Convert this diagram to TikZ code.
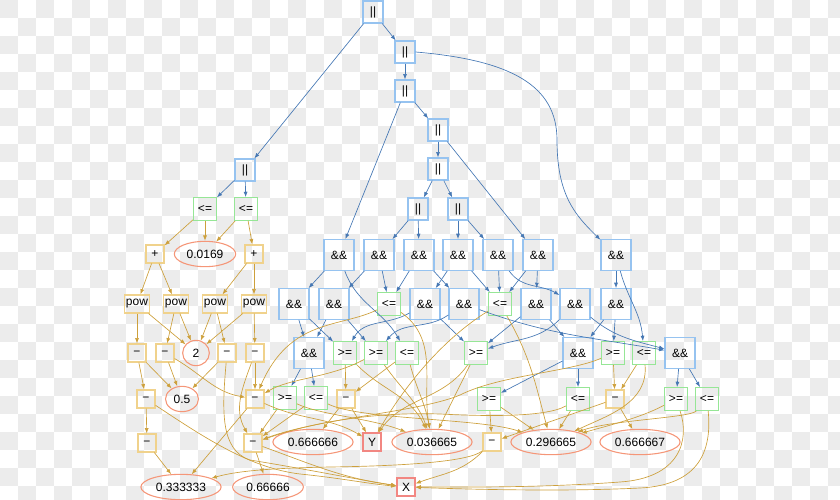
\documentclass[tikz,border=0pt]{standalone}
\usepackage{fontspec}
\setmainfont{Liberation Sans}
\usetikzlibrary{arrows.meta,shapes.geometric}

\definecolor{logicline}{RGB}{70,120,180}
\definecolor{arithline}{RGB}{205,160,60}
\definecolor{logicfrm}{RGB}{150,195,240}
\definecolor{cmpfrm}{RGB}{150,230,150}
\definecolor{opfrm}{RGB}{240,210,140}
\definecolor{constfrm}{RGB}{245,150,120}
\definecolor{varfrm}{RGB}{242,135,130}
\definecolor{chkgrey}{RGB}{236,236,236}

\tikzset{
  orbox/.style={draw=logicfrm, line width=0.9pt, minimum width=15pt, minimum height=16.5pt, inner sep=0pt},
  andbox/.style={draw=logicfrm, line width=0.9pt, minimum width=22.5pt, minimum height=23pt, inner sep=0pt},
  cmpbox/.style={draw=cmpfrm, line width=0.9pt, minimum size=17pt, inner sep=0pt},
  opbox/.style={draw=opfrm, line width=0.9pt, minimum size=13.5pt, inner xsep=1pt, inner ysep=0pt},
  constell/.style={ellipse, draw=constfrm, line width=0.8pt, minimum width=20pt, minimum height=19pt, inner xsep=2.5pt, inner ysep=0pt},
  varbox/.style={draw=varfrm, line width=0.8pt, minimum size=13.5pt, inner sep=0pt},
  logicedge/.style={draw=logicline, line width=0.5pt, -{Latex[length=4pt,width=3pt]}},
  arithedge/.style={draw=arithline, line width=0.5pt, -{Latex[length=4pt,width=3pt]}}
}

\begin{document}
\begin{tikzpicture}[x=0.75pt, y=-0.75pt, every node/.style={font=\fontsize{9}{11}\selectfont}]
  % Background
  \useasboundingbox (0,0) rectangle (840,500);
  \foreach \i in {0,2,...,46} \foreach \j in {0,2,...,26} {
    \fill[chkgrey] (\i*18,\j*18) rectangle ++(18,18);
    \fill[chkgrey] (\i*18+18,\j*18+18) rectangle ++(18,18);
  }

  % Disjunctions
  \node[orbox] (o1) at (373,12) {||};
  \node[orbox] (o2) at (405,52) {||};
  \node[orbox] (o3) at (405,91) {||};
  \node[orbox] (o4) at (438,130) {||};
  \node[orbox] (o5) at (438,169) {||};
  \node[orbox] (o6) at (418,209) {||};
  \node[orbox] (o7) at (458,209) {||};
  \node[orbox] (oL) at (245,170) {||};

  % Conjunctions
  \node[andbox] (a1) at (339,255) {\&\&};
  \node[andbox] (a2) at (379,255) {\&\&};
  \node[andbox] (a3) at (419,255) {\&\&};
  \node[andbox] (a4) at (458,255) {\&\&};
  \node[andbox] (a5) at (498,255) {\&\&};
  \node[andbox] (a6) at (538,255) {\&\&};
  \node[andbox] (a7) at (616,255) {\&\&};
  \node[andbox] (b1) at (294,304) {\&\&};
  \node[andbox] (b2) at (334,304) {\&\&};
  \node[andbox] (b3) at (425,304) {\&\&};
  \node[andbox] (b4) at (464,304) {\&\&};
  \node[andbox] (b5) at (536,304) {\&\&};
  \node[andbox] (b6) at (575,304) {\&\&};
  \node[andbox] (b7) at (616,304) {\&\&};
  \node[andbox] (c1) at (309,353) {\&\&};
  \node[andbox] (c2) at (578,353) {\&\&};
  \node[andbox] (c3) at (680,353) {\&\&};

  % Comparisons
  \node[cmpbox] (lc1) at (205,209) {<=};
  \node[cmpbox] (lc2) at (246,209) {<=};
  \node[cmpbox] (le1) at (389,304) {<=};
  \node[cmpbox] (le2) at (500,304) {<=};
  \node[cmpbox] (ge1) at (345,353) {>=};
  \node[cmpbox] (ge2) at (376,353) {>=};
  \node[cmpbox] (le3) at (407,353) {<=};
  \node[cmpbox] (ge3) at (476,353) {>=};
  \node[cmpbox] (ge4) at (613,353) {>=};
  \node[cmpbox] (le4) at (644,353) {<=};
  \node[cmpbox] (ge5) at (285,398) {>=};
  \node[cmpbox] (le5) at (316,398) {<=};
  \node[cmpbox] (ge6) at (489,399) {>=};
  \node[cmpbox] (le6) at (578,399) {<=};
  \node[cmpbox] (ge7) at (676,399) {>=};
  \node[cmpbox] (le7) at (707,399) {<=};

  % Arithmetic
  \node[opbox] (p1) at (155,254) {+};
  \node[opbox] (p2) at (254,254) {+};
  \node[opbox] (w1) at (137,304) {pow};
  \node[opbox] (w2) at (176,304) {pow};
  \node[opbox] (w3) at (215,304) {pow};
  \node[opbox] (w4) at (254,304) {pow};
  \node[opbox] (m1) at (137,353) {−};
  \node[opbox] (m2) at (165,353) {−};
  \node[opbox] (m3) at (227,353) {−};
  \node[opbox] (m4) at (255,353) {−};
  \node[opbox] (m5) at (146,399) {−};
  \node[opbox] (m7) at (255,399) {−};
  \node[opbox] (m8) at (346,399) {−};
  \node[opbox] (m9) at (615,399) {−};
  \node[opbox] (m6) at (147,443) {−};
  \node[opbox] (m10) at (253,443) {−};
  \node[opbox] (m11) at (492,442) {−};

  % Constants and variables
  \node[constell] (c0169) at (205,254) {0.0169};
  \node[constell] (two) at (196,353) {2};
  \node[constell] (half) at (182,399) {0.5};
  \node[constell] (e666666) at (313,442) {0.666666};
  \node[constell] (e036665) at (432,442) {0.036665};
  \node[constell] (e296665) at (551,442) {0.296665};
  \node[constell] (e666667) at (640,442) {0.666667};
  \node[constell] (e333333) at (181,487) {0.333333};
  \node[constell] (e66666) at (268,487) {0.66666};
  \node[varbox] (Y) at (372,442) {Y};
  \node[varbox] (X) at (406,487) {X};

  % Logic edges
  \draw[logicedge] (o1) -- (o2);
  \draw[logicedge] (o1) -- (oL);
  \draw[logicedge] (o2) -- (o3);
  \draw[logicedge] (o2.east) .. controls (510,60) and (557,85) .. (557,140) .. controls (557,195) and (575,215) .. (a7);
  \draw[logicedge] (o3) -- (o4);
  \draw[logicedge] (o3) -- (a1);
  \draw[logicedge] (o4) -- (o5);
  \draw[logicedge] (o4) -- (a6);
  \draw[logicedge] (o5) -- (o6);
  \draw[logicedge] (o5) -- (o7);
  \draw[logicedge] (o6) -- (a2);
  \draw[logicedge] (o6) -- (a3);
  \draw[logicedge] (o7) -- (a4);
  \draw[logicedge] (o7) -- (a5);
  \draw[logicedge] (oL) -- (lc1);
  \draw[logicedge] (oL) -- (lc2);
  \draw[logicedge] (a1) -- (b1);
  \draw[logicedge] (a1) to[out=-70,in=120] (le3);
  \draw[logicedge] (a2) -- (b2);
  \draw[logicedge] (a2) -- (le1);
  \draw[logicedge] (a3) -- (le1);
  \draw[logicedge] (a3) -- (b4);
  \draw[logicedge] (a4) -- (b3);
  \draw[logicedge] (a4) -- (le2);
  \draw[logicedge] (a5) -- (le2);
  \draw[logicedge] (a5) to[out=-55,in=150] (b6);
  \draw[logicedge] (a6) -- (le2);
  \draw[logicedge] (a6) -- (b5);
  \draw[logicedge] (a7) -- (b7);
  \draw[logicedge] (a7) to[out=-75,in=95] (le4);
  \draw[logicedge] (b1) -- (c1);
  \draw[logicedge] (b1) -- (ge1);
  \draw[logicedge] (b2) -- (c1);
  \draw[logicedge] (b2) -- (ge2);
  \draw[logicedge] (b3) to[out=-150,in=60] (ge1);
  \draw[logicedge] (b3) -- (ge3);
  \draw[logicedge] (b4) to[out=-145,in=50] (ge2);
  \draw[logicedge] (b4) to[out=-20,in=170] (c3);
  \draw[logicedge] (b5) -- (ge3);
  \draw[logicedge] (b5) -- (c2);
  \draw[logicedge] (b6) to[out=-135,in=20] (ge3);
  \draw[logicedge] (b6) to[out=-40,in=165] (c3);
  \draw[logicedge] (b7) -- (c2);
  \draw[logicedge] (b7) -- (ge4);
  \draw[logicedge] (c1) -- (ge5);
  \draw[logicedge] (c1) -- (le5);
  \draw[logicedge] (c2) -- (ge6);
  \draw[logicedge] (c2) -- (le6);
  \draw[logicedge] (c3) -- (ge7);
  \draw[logicedge] (c3) -- (le7);

  % Arithmetic edges
  \draw[arithedge] (lc1) -- (p1);
  \draw[arithedge] (lc1) -- (c0169);
  \draw[arithedge] (lc2) -- (c0169);
  \draw[arithedge] (lc2) -- (p2);
  \draw[arithedge] (p1) -- (w1);
  \draw[arithedge] (p1) -- (w2);
  \draw[arithedge] (p2) -- (w3);
  \draw[arithedge] (p2) -- (w4);
  \draw[arithedge] (w1) -- (m1);
  \draw[arithedge] (w1) -- (two);
  \draw[arithedge] (w2) -- (m2);
  \draw[arithedge] (w2) -- (two);
  \draw[arithedge] (w3) -- (two);
  \draw[arithedge] (w3) -- (m3);
  \draw[arithedge] (w4) -- (two);
  \draw[arithedge] (w4) -- (m4);
  \draw[arithedge] (m1) -- (m5);
  \draw[arithedge] (m1) -- (half);
  \draw[arithedge] (m2) -- (half);
  \draw[arithedge] (m2) to[out=-30,in=170] (m7);
  \draw[arithedge] (m3) -- (half);
  \draw[arithedge] (m3) .. controls (222,410) and (220,450) .. (250,460) .. controls (300,468) and (360,480) .. (X);
  \draw[arithedge] (m4) -- (m7);
  \draw[arithedge] (m4) to[out=-110,in=120] (m10);
  \draw[arithedge] (m5) -- (m6);
  \draw[arithedge] (m5) .. controls (205,438) and (250,468) .. (300,474) .. controls (340,478) and (370,484) .. (X);
  \draw[arithedge] (m6) -- (e333333);
  \draw[arithedge] (m7) -- (e333333);
  \draw[arithedge] (m7) to[out=-25,in=150] (Y);
  \draw[arithedge] (m8) -- (e666666);
  \draw[arithedge] (m8) -- (Y);
  \draw[arithedge] (m9) -- (m11);
  \draw[arithedge] (m9) -- (e666667);
  \draw[arithedge] (m10) -- (e66666);
  \draw[arithedge] (m10) to[out=-20,in=172] (X);
  \draw[arithedge] (m11) to[out=-135,in=20] (X);
  \draw[arithedge] (m11) .. controls (470,462) and (400,466) .. (330,467) .. controls (280,468) and (240,470) .. (e333333);

  % Comparison edges
  \draw[arithedge] (le1) .. controls (340,328) and (290,318) .. (m7);
  \draw[arithedge] (le1) to[out=-35,in=100] (e036665);
  \draw[arithedge] (le2) .. controls (465,325) and (420,360) .. (Y);
  \draw[arithedge] (le2) to[out=-60,in=105] (e296665);
  \draw[arithedge] (ge1) -- (m8);
  \draw[arithedge] (ge1) to[out=-45,in=115] (e036665);
  \draw[arithedge] (ge2) .. controls (330,378) and (290,378) .. (m7);
  \draw[arithedge] (ge2) to[out=-55,in=110] (e036665);
  \draw[arithedge] (le3) -- (m8);
  \draw[arithedge] (le3) to[out=-75,in=100] (e036665);
  \draw[arithedge] (ge3) to[out=-125,in=55] (Y);
  \draw[arithedge] (ge3) -- (e036665);
  \draw[arithedge] (ge4) -- (m9);
  \draw[arithedge] (ge4) .. controls (570,372) and (500,375) .. (460,395) .. controls (420,412) and (320,418) .. (m10);
  \draw[arithedge] (le4) -- (m9);
  \draw[arithedge] (le4) to[out=-85,in=25] (e296665);
  \draw[arithedge] (ge5) -- (m10);
  \draw[arithedge] (ge5) .. controls (320,415) and (370,418) .. (e036665);
  \draw[arithedge] (le5) -- (m10);
  \draw[arithedge] (le5) .. controls (360,420) and (480,418) .. (e296665);
  \draw[arithedge] (ge6) -- (m11);
  \draw[arithedge] (ge6) -- (e296665);
  \draw[arithedge] (le6) -- (e296665);
  \draw[arithedge] (le6) .. controls (545,418) and (480,416) .. (440,414) .. controls (380,412) and (320,420) .. (m10);
  \draw[arithedge] (ge7) .. controls (640,418) and (610,425) .. (e296665);
  \draw[arithedge] (ge7) .. controls (690,440) and (680,478) .. (620,482) .. controls (540,488) and (460,487) .. (X);
  \draw[arithedge] (le7) .. controls (690,418) and (610,420) .. (e296665);
  \draw[arithedge] (le7) .. controls (712,450) and (700,485) .. (640,488) .. controls (560,492) and (460,489) .. (X);
\end{tikzpicture}
\end{document}
